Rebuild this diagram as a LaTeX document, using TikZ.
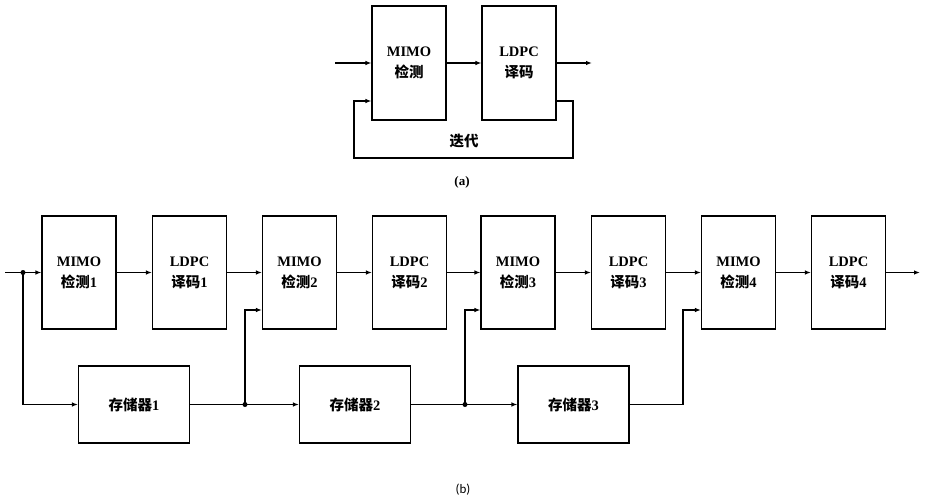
\documentclass[tikz,border=0pt]{standalone}
\usepackage{fontspec}
\setmainfont{Liberation Serif}
\newfontfamily\cjk{Noto Sans CJK SC}
\newfontfamily\capfont{Carlito}
\usetikzlibrary{arrows.meta,calc}
\begin{document}
\begin{tikzpicture}[x=1pt,y=-1pt,
  line width=1.1pt,
  blk/.style={draw, line width=1.1pt, minimum width=74pt, minimum height=113pt, inner sep=0pt, align=center, font=\fontsize{14.5}{21}\selectfont},
  mem/.style={draw, line width=1.1pt, minimum width=111pt, minimum height=77pt, inner sep=0pt, align=center, font=\fontsize{14.5}{21}\selectfont},
  arr/.style={-{Latex[length=6pt,width=4.5pt]}},
  dot/.style={circle, fill, inner sep=0pt, minimum size=5pt}]
\useasboundingbox (0,0) rectangle (925,503);
% (a)
\node[blk, minimum height=114pt] (ma) at (409,63) {\textbf{MIMO}\\{\cjk\bfseries 检测}};
\node[blk, minimum height=114pt] (la) at (519,63) {\textbf{LDPC}\\{\cjk\bfseries 译码}};
\coordinate (ina) at (335,63);
\coordinate (outa) at (592,63);
\draw[arr] (ina) -- (ma.west);
\draw[arr] (ma.east) -- (la.west);
\draw[arr] (la.east) -- (outa);
\coordinate (fa1) at (573,101);
\coordinate (fa2) at (354,158);
\draw[arr] (la.east |- fa1) -- (fa1) |- (fa2) |- (ma.west |- fa1);
\node[font=\cjk\bfseries\fontsize{14.5}{17}\selectfont] (iter) at (464,141) {迭代};
\node[font=\bfseries\fontsize{13}{15}\selectfont] (capa) at (462,182) {(a)};
% (b)
\node[blk] (m1) at (79,272.5) {\textbf{MIMO}\\{\cjk\bfseries 检测}\textbf{1}};
\node[blk] (l1) at (189.5,272.5) {\textbf{LDPC}\\{\cjk\bfseries 译码}\textbf{1}};
\node[blk] (m2) at (299.5,272.5) {\textbf{MIMO}\\{\cjk\bfseries 检测}\textbf{2}};
\node[blk] (l2) at (409.5,272.5) {\textbf{LDPC}\\{\cjk\bfseries 译码}\textbf{2}};
\node[blk] (m3) at (518,272.5) {\textbf{MIMO}\\{\cjk\bfseries 检测}\textbf{3}};
\node[blk] (l3) at (628.5,272.5) {\textbf{LDPC}\\{\cjk\bfseries 译码}\textbf{3}};
\node[blk] (m4) at (738.5,272.5) {\textbf{MIMO}\\{\cjk\bfseries 检测}\textbf{4}};
\node[blk] (l4) at (848.5,272.5) {\textbf{LDPC}\\{\cjk\bfseries 译码}\textbf{4}};
\node[mem] (s1) at (134,404.5) {{\cjk\bfseries 存储器}\textbf{1}};
\node[mem] (s2) at (355,404.5) {{\cjk\bfseries 存储器}\textbf{2}};
\node[mem] (s3) at (573.5,404.5) {{\cjk\bfseries 存储器}\textbf{3}};
\coordinate (inb) at (5,272.5);
\coordinate (outb) at (920,272.5);
\node[dot] (d0) at (23,272.5) {};
\node[dot] (d1) at (245,404.5) {};
\node[dot] (d2) at (465,404.5) {};
\coordinate (c3) at (683,404.5);
\draw[arr] (inb) -- (m1.west);
\draw[arr] (m1.east) -- (l1.west);
\draw[arr] (l1.east) -- (m2.west);
\draw[arr] (m2.east) -- (l2.west);
\draw[arr] (l2.east) -- (m3.west);
\draw[arr] (m3.east) -- (l3.west);
\draw[arr] (l3.east) -- (m4.west);
\draw[arr] (m4.east) -- (l4.west);
\draw[arr] (l4.east) -- (outb);
\draw[arr] (d0.center) |- (s1.west);
\draw[arr] (s1.east) -- (s2.west);
\draw[arr] (s2.east) -- (s3.west);
\draw (s3.east) -- (c3);
\draw[arr] (d1.center) |- ($(m2.west)+(0,37.5)$);
\draw[arr] (d2.center) |- ($(m3.west)+(0,37.5)$);
\draw[arr] (c3) |- ($(m4.west)+(0,37.5)$);
\node[font=\capfont\fontsize{13}{15}\selectfont] (capb) at (463,490) {(b)};
\end{tikzpicture}
\end{document}
